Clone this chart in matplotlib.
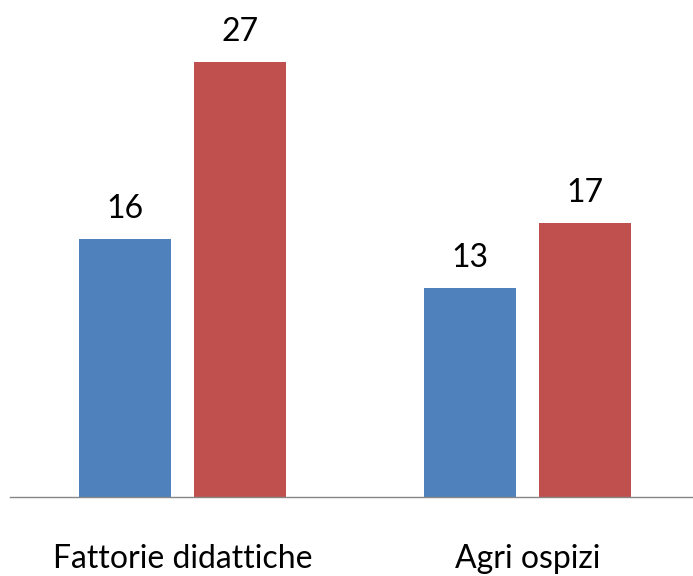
import matplotlib
matplotlib.use("Agg")
import matplotlib.pyplot as plt
import numpy as np

categories = ["Fattorie didattiche", "Agri ospizi"]
series_a = [16, 13]
series_b = [27, 17]

plt.rcParams['font.family'] = ['Lato', 'DejaVu Sans']

fig = plt.figure(figsize=(6.93, 5.76), dpi=100)
ax = fig.add_axes([10/693, 79/576, 690/693, 483/576])

x = np.arange(len(categories))
w = 0.267
off = 0.167
fs = 23
px = 72/100  # points per pixel
b1 = ax.bar(x - off, series_a, w, color="#4F81BD")
b2 = ax.bar(x + off, series_b, w, color="#C0504D")
for bars in (b1, b2):
    for r in bars:
        ax.annotate(f"{int(r.get_height())}", (r.get_x() + r.get_width()/2, r.get_height()),
                    xytext=(0, 21*px), textcoords="offset points", ha="center", va="baseline",
                    fontsize=fs, color="black")

for i, c in enumerate(categories):
    ax.annotate(c, (x[i], 0), xycoords=("data", "axes fraction"),
                xytext=(0, -71*px), textcoords="offset points", ha="center", va="baseline",
                fontsize=fs, color="black", annotation_clip=False)

ax.set_xlim(-0.5, 1.5)
ax.set_ylim(0, 30)
ax.set_xticks([])
ax.set_yticks([])
for s in ["top", "right", "left"]:
    ax.spines[s].set_visible(False)
ax.spines["bottom"].set_color("#868686")
ax.spines["bottom"].set_linewidth(1)

fig.savefig("out.png", dpi=100)
